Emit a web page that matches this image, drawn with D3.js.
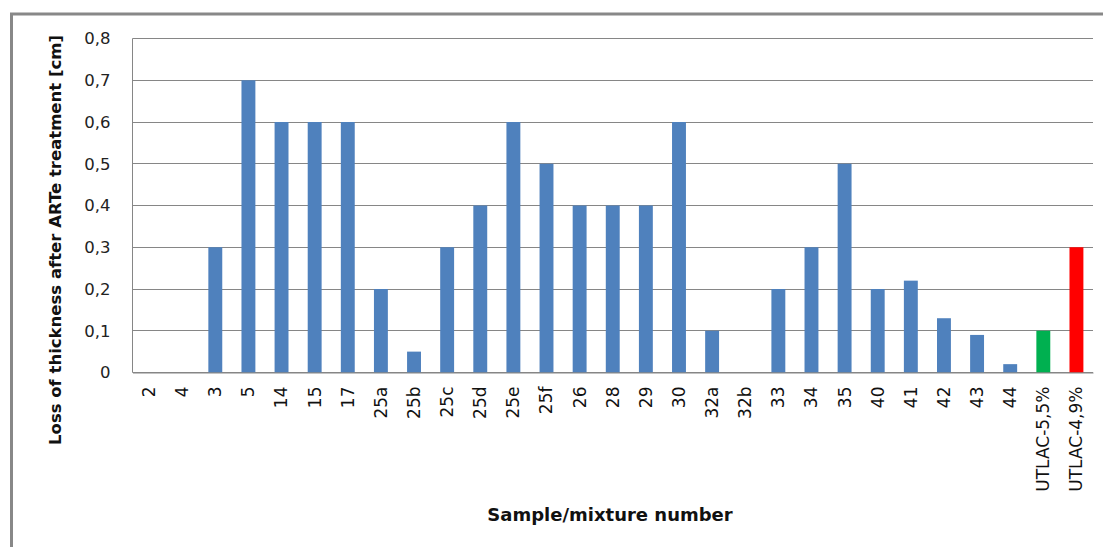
<!DOCTYPE html>
<html>
<head>
<meta charset="utf-8">
<script src="https://cdn.jsdelivr.net/npm/d3@7"></script>
<style>
  body { margin: 0; background: #fff; }
  svg { display: block; }
</style>
</head>
<body>
<div id="chart"></div>
<script>
const samples = ["2", "4", "3", "5", "14", "15", "17", "25a", "25b", "25c", "25d", "25e", "25f",
    "26", "28", "29", "30", "32a", "32b", "33", "34", "35", "40", "41", "42", "43", "44",
    "UTLAC-5,5%", "UTLAC-4,9%"];
const thicknessLoss = [0, 0, 0.3, 0.7, 0.6, 0.6, 0.6, 0.2, 0.05, 0.3, 0.4, 0.6, 0.5,
    0.4, 0.4, 0.4, 0.6, 0.1, 0, 0.2, 0.3, 0.5, 0.2, 0.22, 0.13, 0.09, 0.02,
    0.1, 0.3];
const yTicks = [0, 0.1, 0.2, 0.3, 0.4, 0.5, 0.6, 0.7, 0.8];
const specialColors = { "UTLAC-5,5%": "#00b050", "UTLAC-4,9%": "#ff0000" };

const W = 1103, H = 547;
const margin = { top: 38.5, right: 10, bottom: 174, left: 132.5 };
const width = 1093 - margin.left;
const height = 372.5 - margin.top;

const root = d3.select("#chart").append("svg")
    .attr("width", W)
    .attr("height", H);

// outer frame (right/bottom sides fall outside the picture)
root.append("rect")
    .attr("x", 11.5).attr("y", 14)
    .attr("width", W).attr("height", H)
    .attr("fill", "none")
    .attr("stroke", "#888")
    .attr("stroke-width", 3);

const svg = root.append("g")
    .attr("transform", `translate(${margin.left},${margin.top})`);

const x = d3.scaleBand()
    .domain(samples)
    .range([0, width])
    .paddingInner(0.58)
    .paddingOuter(0.29);

const y = d3.scaleLinear()
    .domain([0, 0.8])
    .range([height, 0]);

// gridlines
svg.append("g")
    .selectAll("line")
    .data(yTicks)
    .enter().append("line")
    .attr("x1", 0).attr("x2", width)
    .attr("y1", d => Math.round(y(d)))
    .attr("y2", d => Math.round(y(d)))
    .attr("stroke", "#868686")
    .attr("stroke-width", 1);

svg.append("line")
    .attr("x1", 0).attr("x2", 0)
    .attr("y1", 0).attr("y2", height)
    .attr("stroke", "#868686");

svg.selectAll(".bar")
    .data(samples)
    .enter().append("rect")
    .attr("class", "bar")
    .attr("x", d => x(d))
    .attr("width", x.bandwidth())
    .attr("y", (d, i) => y(thicknessLoss[i]))
    .attr("height", (d, i) => height - y(thicknessLoss[i]))
    .attr("fill", d => specialColors[d] || "#4f81bd");

// y axis
const yAxis = svg.append("g")
    .call(d3.axisLeft(y).tickValues(yTicks).tickSize(0).tickPadding(22)
        .tickFormat(d => d === 0 ? "0" : d3.format(".1f")(d).replace(".", ",")));
yAxis.select(".domain").remove();
yAxis.selectAll("text")
    .attr("font-family", "'DejaVu Sans', sans-serif")
    .attr("font-size", 16.5)
    .attr("fill", "#222");

// x axis
const xAxis = svg.append("g")
    .attr("transform", `translate(0,${height})`)
    .call(d3.axisBottom(x).tickSize(0));
xAxis.select(".domain").attr("stroke", "#868686");
xAxis.selectAll("text")
    .attr("font-family", "'DejaVu Sans', sans-serif")
    .attr("font-size", 17)
    .attr("fill", "#111")
    .attr("text-anchor", "end")
    .attr("dy", "0.35em")
    .attr("transform", "translate(0,14) rotate(-90)")
    .attr("x", 0).attr("y", 0);

// axis titles
root.append("text")
    .attr("transform", "translate(61,240) rotate(-90)")
    .attr("text-anchor", "middle")
    .attr("font-family", "'DejaVu Sans', sans-serif")
    .attr("font-weight", "bold")
    .attr("font-size", 16.5)
    .attr("fill", "#111")
    .text("Loss of thickness after ARTe treatment [cm]");

root.append("text")
    .attr("x", 610).attr("y", 521)
    .attr("text-anchor", "middle")
    .attr("font-family", "'DejaVu Sans', sans-serif")
    .attr("font-weight", "bold")
    .attr("font-size", 18)
    .attr("fill", "#111")
    .text("Sample/mixture number");
</script>
</body>
</html>
